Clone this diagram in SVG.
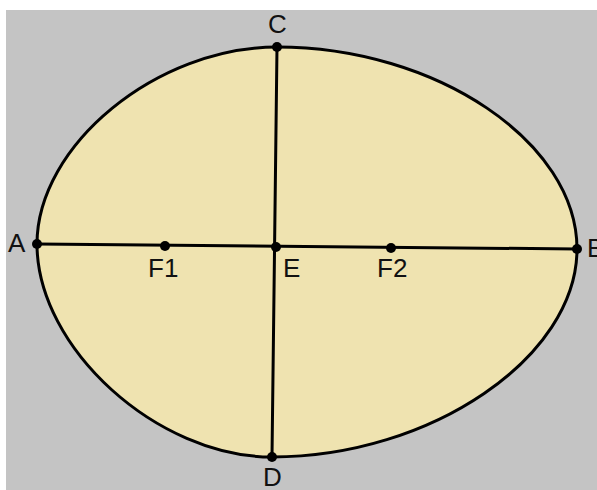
<svg xmlns="http://www.w3.org/2000/svg" width="597" height="490" viewBox="0 0 597 490">
<style>
.lbl{font-family:"Liberation Sans","Open Sans",sans-serif;font-size:26px;fill:#111}
.ln{stroke:#000;stroke-width:3;fill:none;stroke-linecap:round}
.pt{fill:#000}
</style>
<rect x="0" y="0" width="597" height="490" fill="#ffffff"/>
<rect x="6" y="10" width="591" height="480" fill="#c4c4c4"/>
<g id="ellipse">
<path d="M37,244 C37,145 157,47 277,47 C436,47 577,142 577,249 C577,357 431,457 272,457 C157,457 37,348 37,244 Z" fill="#efe3b0" stroke="#000" stroke-width="3"/>
</g>
<g id="connectors">
<path class="ln" d="M37,244 L577,249"/>
<path class="ln" d="M277,47 L272,457"/>
</g>
<g id="A"><circle class="pt" cx="37" cy="244" r="5"/><text class="lbl" x="8" y="252">A</text></g>
<g id="B"><circle class="pt" cx="577" cy="249" r="5"/><text class="lbl" x="587" y="257">B</text></g>
<g id="C"><circle class="pt" cx="277" cy="47" r="5"/><text class="lbl" x="268" y="33">C</text></g>
<g id="D"><circle class="pt" cx="272" cy="457" r="5"/><text class="lbl" x="263" y="486">D</text></g>
<g id="E"><circle class="pt" cx="276" cy="247" r="5"/><text class="lbl" x="283" y="277">E</text></g>
<g id="F1"><circle class="pt" cx="165" cy="246" r="5"/><text class="lbl" x="148" y="277">F1</text></g>
<g id="F2"><circle class="pt" cx="391" cy="248" r="5"/><text class="lbl" x="377" y="277">F2</text></g>
</svg>
